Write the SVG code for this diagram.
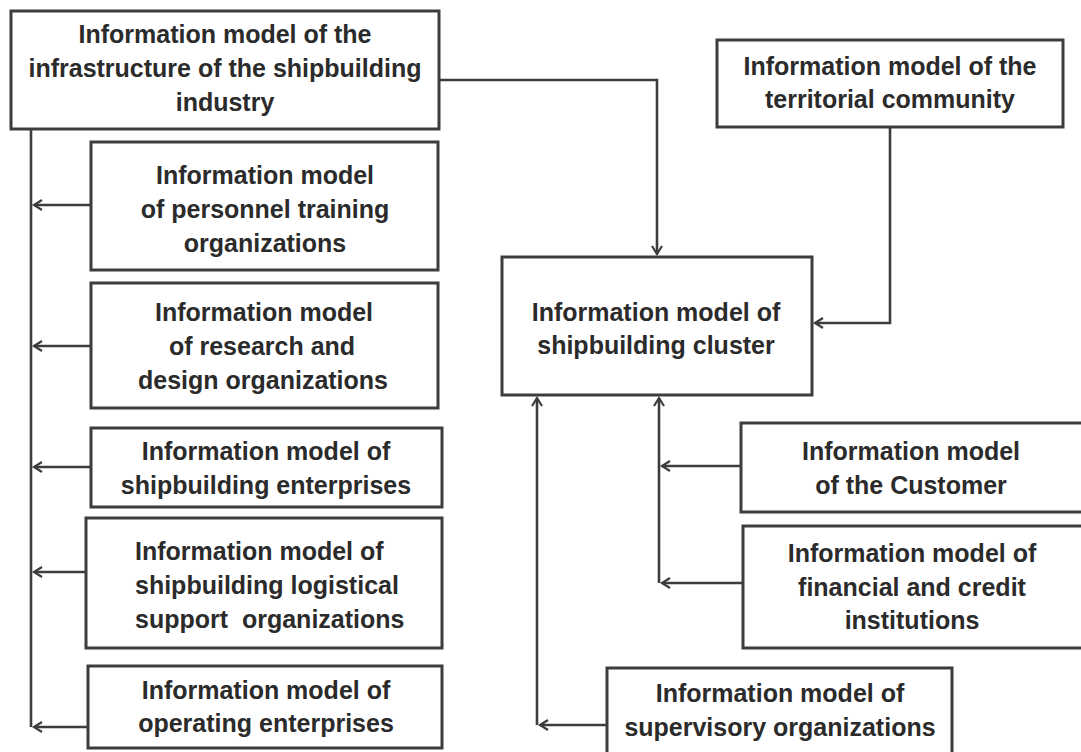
<svg xmlns="http://www.w3.org/2000/svg" width="1081" height="752" viewBox="0 0 1081 752">
  <style>
    .box { fill: #ffffff; stroke: #3d3d3d; stroke-width: 3; }
    .lbl { font-family: "Liberation Sans", Arial, sans-serif; font-weight: bold; font-size: 25px; fill: #2b2b2b; text-anchor: middle; white-space: pre; }
    .lbl.left { text-anchor: start; }
    .wire { fill: none; stroke: #3d3d3d; stroke-width: 2.6; }
  </style>
  <defs>
    <marker id="arrow" markerUnits="userSpaceOnUse" markerWidth="14" markerHeight="14" viewBox="-10 -7 12 14" refX="0" refY="0" orient="auto">
      <path d="M-8,-5 L0,0 L-8,5" fill="none" stroke="#3d3d3d" stroke-width="2.2"/>
    </marker>
  </defs>
  <rect width="1081" height="752" fill="#ffffff"/>

  <!-- connectors -->
  <g id="connectors">
    <path class="wire" d="M439,80 H657 V254" marker-end="url(#arrow)"/>
    <path class="wire" d="M31,129 V727"/>
    <path class="wire" d="M91,205 H34" marker-end="url(#arrow)"/>
    <path class="wire" d="M91,346 H34" marker-end="url(#arrow)"/>
    <path class="wire" d="M91,467 H34" marker-end="url(#arrow)"/>
    <path class="wire" d="M86,572 H34" marker-end="url(#arrow)"/>
    <path class="wire" d="M88,727 H34" marker-end="url(#arrow)"/>
    <path class="wire" d="M890,127 V323 H815" marker-end="url(#arrow)"/>
    <path class="wire" d="M741,466 H662" marker-end="url(#arrow)"/>
    <path class="wire" d="M743,583 H662" marker-end="url(#arrow)"/>
    <path class="wire" d="M659,583 V398" marker-end="url(#arrow)"/>
    <path class="wire" d="M607,725 H540" marker-end="url(#arrow)"/>
    <path class="wire" d="M537,725 V398" marker-end="url(#arrow)"/>
  </g>

  <g id="infrastructure">
    <rect class="box" x="11" y="11" width="428" height="118"/>
    <text class="lbl" x="225" y="43">Information model of the</text>
    <text class="lbl" x="225" y="77">infrastructure of the shipbuilding</text>
    <text class="lbl" x="225" y="111">industry</text>
  </g>

  <g id="personnel-training">
    <rect class="box" x="91" y="142" width="347" height="128"/>
    <text class="lbl" x="265" y="184">Information model</text>
    <text class="lbl" x="265" y="218">of personnel training</text>
    <text class="lbl" x="265" y="252">organizations</text>
  </g>

  <g id="research-design">
    <rect class="box" x="91" y="283" width="347" height="125"/>
    <text class="lbl" x="264" y="321">Information model</text>
    <text class="lbl" x="262" y="355">of research and</text>
    <text class="lbl" x="263" y="389">design organizations</text>
  </g>

  <g id="shipbuilding-enterprises">
    <rect class="box" x="91" y="428" width="351" height="79"/>
    <text class="lbl" x="266" y="460">Information model of</text>
    <text class="lbl" x="266" y="494">shipbuilding enterprises</text>
  </g>

  <g id="logistical-support">
    <rect class="box" x="86" y="518" width="356" height="130"/>
    <text class="lbl left" x="135" y="560">Information model of</text>
    <text class="lbl left" x="135" y="594">shipbuilding logistical</text>
    <text class="lbl left" x="135" y="628">support  organizations</text>
  </g>

  <g id="operating-enterprises">
    <rect class="box" x="88" y="666" width="354" height="82"/>
    <text class="lbl" x="266" y="699">Information model of</text>
    <text class="lbl" x="266" y="732">operating enterprises</text>
  </g>

  <g id="territorial-community">
    <rect class="box" x="717" y="40" width="346" height="87"/>
    <text class="lbl" x="890" y="75">Information model of the</text>
    <text class="lbl" x="890" y="108">territorial community</text>
  </g>

  <g id="shipbuilding-cluster">
    <rect class="box" x="502" y="257" width="310" height="138"/>
    <text class="lbl" x="656" y="321">Information model of</text>
    <text class="lbl" x="656" y="354">shipbuilding cluster</text>
  </g>

  <g id="customer">
    <rect class="box" x="741" y="423" width="345" height="89"/>
    <text class="lbl" x="911" y="460">Information model</text>
    <text class="lbl" x="911" y="494">of the Customer</text>
  </g>

  <g id="financial-credit">
    <rect class="box" x="743" y="526" width="343" height="122"/>
    <text class="lbl" x="912" y="562">Information model of</text>
    <text class="lbl" x="912" y="596">financial and credit</text>
    <text class="lbl" x="912" y="629">institutions</text>
  </g>

  <g id="supervisory">
    <rect class="box" x="607" y="668" width="345" height="90"/>
    <text class="lbl" x="780" y="702">Information model of</text>
    <text class="lbl" x="780" y="736">supervisory organizations</text>
  </g>
</svg>
